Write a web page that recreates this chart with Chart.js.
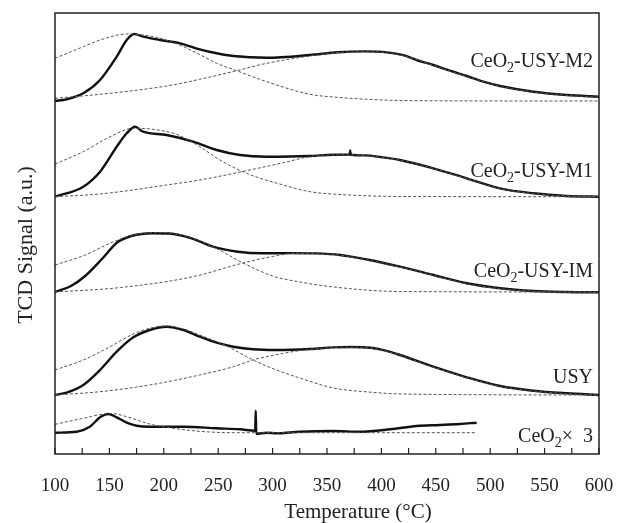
<!DOCTYPE html>
<html>
<head>
<meta charset="utf-8">
<script src="https://cdn.jsdelivr.net/npm/chart.js@4.4.1/dist/chart.umd.min.js"></script>
<style>
  html, body { margin: 0; padding: 0; background: #fff; }
  #wrap { width: 617px; height: 523px; }
</style>
</head>
<body>
<div id="wrap"><canvas id="tpdChart"></canvas></div>
<script>
// [temperature °C, TCD signal (a.u., stacked with offsets)]
const m2Profile = [[100,353],[110.7,354.7],[126,360.7],[141.4,374],[156.7,397.3],[165.9,414],[172.9,420],[181,417.3],[196.5,414],[214.9,410.7],[233,404.7],[248.6,400.7],[264,398],[294.6,396.3],[334.4,399],[360,401.8],[385,402.6],[405,401.6],[420,398.8],[432.4,394],[447.7,389],[463,383.3],[478.4,378],[493.7,372.3],[509,368],[539.6,362.3],[570.3,359],[600,357.3]];
const m2Peak1 = [[100,395.7],[126,407.3],[141.4,414],[165.9,420],[187,418],[210,411],[233,399.5],[248.6,390.7],[267,383.3],[294.6,372.3],[334.4,359.7],[355.8,357],[401.7,354],[450,353.2],[600,353]];
const m2Peak2 = [[100,355.7],[141.4,359.7],[202.6,368],[233,374.7],[267,383.3],[294.6,390.7],[334.4,398],[360,401.5],[385,402.3],[405,401.3],[420,398.5],[447.7,388.7],[478.4,377.7],[509,367.7],[539.6,362],[570.3,358.7],[600,357]];

const m1Profile = [[100,257.3],[126,267.3],[141.4,282.3],[156.7,307.3],[165.9,320.7],[173.5,327.3],[181,322.3],[202.6,319],[227,312.3],[248.6,304],[270,299],[294.6,297.3],[334.4,298],[356,299.3],[370.8,299.4],[371.3,303.5],[371.8,299.3],[385,298.6],[400,296.8],[417,294],[447.7,285.7],[478.4,275.7],[509,265.7],[539.6,260.7],[570.3,258],[600,257.3]];
const m1Peak1 = [[100,290],[126,302.3],[150.6,317.3],[172,325.7],[190,324.7],[212,319.5],[233,307.3],[251.6,294],[276,280.7],[309.8,269],[334.4,262.3],[371,259],[420,257.5],[600,257.3]];
const m1Peak2 = [[100,257.3],[141.4,260],[202.6,269],[233,274],[276,283.3],[309.8,291.3],[334.4,297.3],[360,299.2],[385,298.4],[400,296.6],[417,293.8],[447.7,285.5],[478.4,275.5],[509,265.5],[539.6,260.5],[570.3,258.2],[600,257.2]];

const imProfile = [[100,162],[114.7,168],[127.7,178],[144,196],[157.1,211.5],[170.1,218],[190,220.8],[205,220.5],[225.6,215.7],[245.1,207.3],[268,202.3],[290.8,200.7],[315,200.9],[340,200.6],[362,199],[386.6,194.5],[417,187.3],[447.7,179],[478.4,170.7],[509,165.7],[539.6,163],[570.3,162],[600,161.7]];
const imPeak1 = [[100,189],[127.7,199],[153.8,212.3],[175,219.5],[195,221.5],[220,218],[245.1,207.3],[272.9,191],[300,178],[325,172],[356,167],[417,162.5],[600,162]];
const imPeak2 = [[100,162],[160.3,166.5],[225.6,177],[272.9,191],[300,197.5],[320,200.6],[340,200.4],[362,198.8],[386.6,194.3],[417,187],[447.7,178.7],[478.4,170.4],[509,165.4],[539.6,162.8],[600,161.5]];

const usyProfile = [[100,59],[110.7,61.3],[126,69],[141.4,84],[156.7,102.3],[172,116.7],[187,124],[202.6,127.3],[218,124],[233,117.3],[248.6,111.3],[264,107.3],[282,104.7],[303.6,104],[334.4,105],[355.8,106.6],[372,107],[390,106.2],[403,103.6],[417,99],[447.7,87.3],[478.4,76.7],[509,68],[539.6,63.3],[570.3,60.7],[600,59]];
const usyPeak1 = [[100,84],[126,94],[150.6,107.3],[172,120],[187,125.7],[202,128],[218,125],[233,119],[257.8,108],[282,94],[303.6,84],[325,76],[356,66],[388,62],[420,60],[600,59]];
const usyPeak2 = [[100,59],[141.4,62.3],[187,69],[233,79],[264,87.3],[282,94],[309.8,100.7],[334.4,104.6],[355.8,106.4],[372,106.8],[390,106],[403,103.4],[417,98.8],[447.7,87],[478.4,76.4],[509,67.7],[539.6,63],[570.3,60.4],[600,58.8]];

const ceo2Profile = [[100,21.3],[120,22.3],[132,27.3],[141.4,36.7],[149,40],[156.7,36.7],[165.9,31.3],[175,28.3],[187,27.3],[218,27.3],[248.6,25.7],[270,24.7],[284,23.3],[284.5,43.3],[285,20.2],[294.6,21.3],[303.6,20.7],[325,22.3],[355.8,23],[380.3,22.3],[408,24.7],[432.4,28],[453.8,29],[472.2,30],[487.5,31.3]];
const ceo2Peak = [[100,29.7],[126,35.7],[144.5,40],[152,40.5],[165.9,37.3],[187,30],[208.7,25.7],[233,22.7],[264,21.3],[487.5,21.3]];

const sampleLabels = [
  { y: 387.3, main: 'CeO', sub: '2', rest: '-USY-M2' },
  { y: 277, main: 'CeO', sub: '2', rest: '-USY-M1' },
  { y: 177, main: 'CeO', sub: '2', rest: '-USY-IM' },
  { y: 71, main: 'USY', sub: '', rest: '' },
  { y: 12, main: 'CeO', sub: '2', rest: '\u00d7  3' }
];

const toPts = arr => arr.map(p => ({ x: p[0], y: p[1] }));

function solid(data) {
  return { data: toPts(data), borderColor: '#111', borderWidth: 2.4, pointRadius: 0,
    cubicInterpolationMode: 'monotone', fill: false };
}
function dashed(data) {
  return { data: toPts(data), borderColor: '#555', borderWidth: 1, borderDash: [3, 2],
    pointRadius: 0, cubicInterpolationMode: 'monotone', fill: false };
}

const serif = 'Liberation Serif';

const framePlugin = {
  id: 'frame',
  afterDraw(chart) {
    const { ctx, chartArea: a, scales } = chart;
    ctx.save();
    ctx.strokeStyle = '#222';
    ctx.lineWidth = 1.5;
    ctx.strokeRect(a.left, a.top, a.right - a.left, a.bottom - a.top);
    // inward ticks on the bottom axis
    ctx.lineWidth = 1.2;
    for (let t = 100; t <= 600; t += 25) {
      const px = scales.x.getPixelForValue(t);
      ctx.beginPath();
      ctx.moveTo(px, a.bottom);
      ctx.lineTo(px, a.bottom - 6);
      ctx.stroke();
    }
    // axis titles
    ctx.fillStyle = '#222';
    ctx.textAlign = 'center';
    ctx.textBaseline = 'alphabetic';
    ctx.font = '21px "' + serif + '"';
    ctx.fillText('Temperature (\u00b0C)', 358, 518);
    ctx.save();
    ctx.translate(32, 245);
    ctx.rotate(-Math.PI / 2);
    ctx.font = '22px "' + serif + '"';
    ctx.fillText('TCD Signal (a.u.)', 0, 0);
    ctx.restore();
    // sample labels
    ctx.textAlign = 'left';
    const big = '20px "' + serif + '"', small = '14px "' + serif + '"';
    const right = scales.x.getPixelForValue(594.5);
    sampleLabels.forEach(l => {
      ctx.font = big;
      const w1 = ctx.measureText(l.main).width;
      const w3 = ctx.measureText(l.rest).width;
      ctx.font = small;
      const w2 = ctx.measureText(l.sub).width;
      let x = right - (w1 + w2 + w3);
      const y = scales.y.getPixelForValue(l.y);
      ctx.font = big;
      ctx.fillText(l.main, x, y);
      x += w1;
      ctx.font = small;
      ctx.fillText(l.sub, x, y + 5);
      x += w2;
      ctx.font = big;
      ctx.fillText(l.rest, x, y);
    });
    ctx.restore();
  }
};

new Chart(document.getElementById('tpdChart').getContext('2d'), {
  type: 'line',
  data: {
    datasets: [
      dashed(m2Peak1), dashed(m2Peak2), solid(m2Profile),
      dashed(m1Peak1), dashed(m1Peak2), solid(m1Profile),
      dashed(imPeak1), dashed(imPeak2), solid(imProfile),
      dashed(usyPeak1), dashed(usyPeak2), solid(usyProfile),
      dashed(ceo2Peak), solid(ceo2Profile)
    ]
  },
  options: {
    responsive: true,
    maintainAspectRatio: false,
    animation: false,
    layout: { padding: { left: 55, right: 18, top: 13, bottom: 0 } },
    plugins: { legend: { display: false }, tooltip: { enabled: false } },
    scales: {
      x: {
        type: 'linear',
        min: 100,
        max: 600,
        grid: { display: false },
        border: { display: false },
        ticks: {
          stepSize: 25,
          autoSkip: false,
          maxRotation: 0,
          padding: 13,
          color: '#222',
          font: { family: serif, size: 19 },
          callback: v => (v % 50 === 0 ? v : '')
        },
        afterFit: s => {
          s.height = 69;
          s.paddingLeft = 0;
          s.paddingRight = 0;
        }
      },
      y: { display: false, min: 0, max: 441 }
    }
  },
  plugins: [framePlugin]
});
</script>
</body>
</html>
